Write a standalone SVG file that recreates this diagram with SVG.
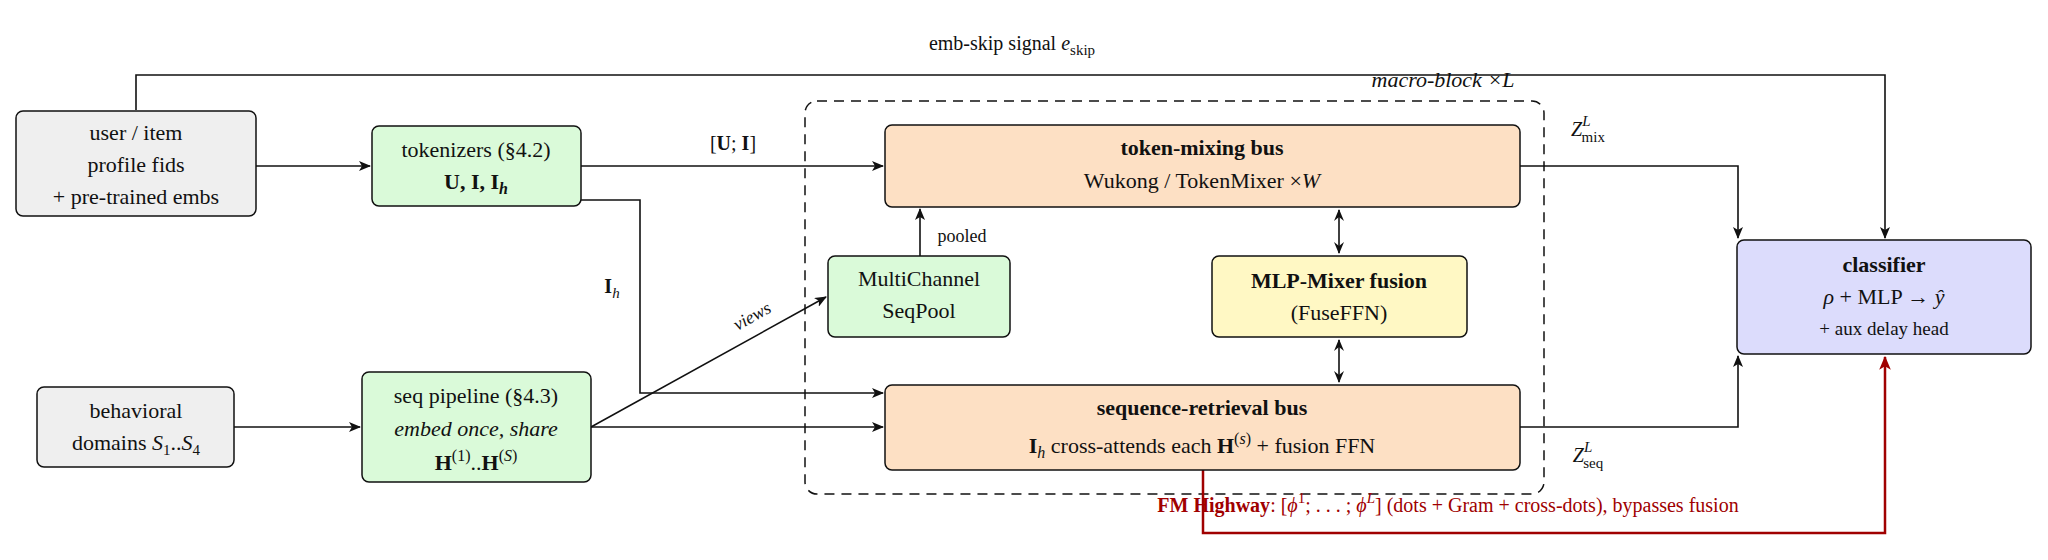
<svg xmlns="http://www.w3.org/2000/svg" width="2048" height="560" viewBox="0 0 2048 560">
<style>
text{font-family:"Liberation Serif","DejaVu Serif",serif;font-size:22px;fill:#111;text-anchor:middle}
.b{font-weight:bold}.i{font-style:italic}.sm{font-size:15px}
.n{stroke:#111;stroke-width:1.5}
.gray{fill:#efefef}.green{fill:#dafad9}.orange{fill:#fde0c4}.yellow{fill:#fff8c4}.blue{fill:#dcdcfc}
.c{fill:none;stroke:#111;stroke-width:1.6}
.red{fill:none;stroke:#a00000;stroke-width:2.5}
</style>
<defs>
<marker id="a" viewBox="0 0 12 10" refX="11" refY="5" markerWidth="12" markerHeight="10" markerUnits="userSpaceOnUse" orient="auto"><path d="M0,0 L12,5 L0,10 L3,5 Z" fill="#111"/></marker>
<marker id="ar" viewBox="0 0 12 10" refX="11" refY="5" markerWidth="14" markerHeight="12" markerUnits="userSpaceOnUse" orient="auto"><path d="M0,0 L12,5 L0,10 L3,5 Z" fill="#a00000"/></marker>
<marker id="d" viewBox="0 0 12 10" refX="11" refY="5" markerWidth="14" markerHeight="10" markerUnits="userSpaceOnUse" orient="auto-start-reverse"><path d="M0,0 L12,5 L0,10 L4,5 Z" fill="#111"/></marker>
</defs>
<text x="1012" y="50" style="font-size:20px">emb-skip signal <tspan class="i">e</tspan><tspan style="font-size:15px" dy="5">skip</tspan></text>
<rect x="805" y="101" width="739" height="393" rx="12" fill="none" stroke="#111" stroke-width="1.5" stroke-dasharray="10,7"/>
<text x="1443" y="87" class="i">macro-block ×<tspan>L</tspan></text>
<g id="connectors">
<path class="c" d="M136,110 V75 H1885 V238" marker-end="url(#a)"/>
<path class="c" d="M256,166 H370" marker-end="url(#a)"/>
<path class="c" d="M581,166 H883" marker-end="url(#a)"/>
<path class="c" d="M581,200 H640 V393 H883" marker-end="url(#a)"/>
<path class="c" d="M234,427 H360" marker-end="url(#a)"/>
<path class="c" d="M591,427 H883" marker-end="url(#a)"/>
<path class="c" d="M591,427 L826,297" marker-end="url(#a)"/>
<path class="c" d="M920,256 V209" marker-end="url(#a)"/>
<path class="c" d="M1339,210 V253" marker-start="url(#d)" marker-end="url(#d)"/>
<path class="c" d="M1339,340 V382" marker-start="url(#d)" marker-end="url(#d)"/>
<path class="c" d="M1520,166 H1738 V238" marker-end="url(#a)"/>
<path class="c" d="M1520,427 H1738 V356" marker-end="url(#a)"/>
<path class="red" d="M1203,470 V533 H1885 V357" marker-end="url(#ar)"/>
<text x="733" y="150" style="font-size:20px">[<tspan class="b">U</tspan>; <tspan class="b">I</tspan>]</text>
<text x="612" y="293" style="font-size:20px"><tspan class="b">I</tspan><tspan class="i" style="font-size:15px" dy="5">h</tspan></text>
<text x="752" y="322" class="i" style="font-size:18px" transform="rotate(-29 752 316)">views</text>
<text x="962" y="242" style="font-size:18px">pooled</text>
<text x="1588" y="136" class="i" style="font-size:20px">Z<tspan style="font-size:15px" dy="-10">L</tspan><tspan class="sm" style="font-style:normal" dx="-9" dy="16">mix</tspan></text>
<text x="1588" y="462" class="i" style="font-size:20px">Z<tspan style="font-size:15px" dy="-10">L</tspan><tspan class="sm" style="font-style:normal" dx="-9" dy="16">seq</tspan></text>
<text x="1448" y="512" style="font-size:20px;fill:#a00000"><tspan class="b" style="fill:#a00000">FM Highway</tspan>: [<tspan class="i" style="fill:#a00000">ϕ</tspan><tspan style="font-size:15px;fill:#a00000" dy="-9">1</tspan><tspan dy="9" style="fill:#a00000">; . . . ; </tspan><tspan class="i" style="fill:#a00000">ϕ</tspan><tspan class="i" style="font-size:15px;fill:#a00000" dy="-9">L</tspan><tspan dy="9" style="fill:#a00000">] (dots + Gram + cross-dots), bypasses fusion</tspan></text>
</g>
<g id="user"><rect class="n gray" x="16" y="111" width="240" height="105" rx="7"/>
<text x="136" y="140">user / item</text><text x="136" y="172">profile fids</text><text x="136" y="204">+ pre-trained embs</text></g>
<g id="tokenizers"><rect class="n green" x="372" y="126" width="209" height="80" rx="7"/>
<text x="476" y="157">tokenizers (§4.2)</text><text x="476" y="189" class="b">U, I, I<tspan class="i" style="font-size:16px" dy="5">h</tspan></text></g>
<g id="behavioral"><rect class="n gray" x="37" y="387" width="197" height="80" rx="7"/>
<text x="136" y="418">behavioral</text><text x="136" y="450">domains <tspan class="i">S</tspan><tspan style="font-size:15px" dy="5">1</tspan><tspan dy="-5">..</tspan><tspan class="i">S</tspan><tspan style="font-size:15px" dy="5">4</tspan></text></g>
<g id="seqpipe"><rect class="n green" x="362" y="372" width="229" height="110" rx="7"/>
<text x="476" y="403">seq pipeline (§4.3)</text><text x="476" y="436" class="i">embed once, share</text>
<text x="476" y="470"><tspan class="b">H</tspan><tspan style="font-size:16px" dy="-9">(1)</tspan><tspan dy="9">..</tspan><tspan class="b">H</tspan><tspan style="font-size:16px" dy="-9">(<tspan class="i">S</tspan>)</tspan></text></g>
<g id="seqpool"><rect class="n green" x="828" y="256" width="182" height="81" rx="7"/>
<text x="919" y="286">MultiChannel</text><text x="919" y="318">SeqPool</text></g>
<g id="tokenbus"><rect class="n orange" x="885" y="125" width="635" height="82" rx="7"/>
<text x="1202" y="155" class="b">token-mixing bus</text><text x="1202" y="188">Wukong / TokenMixer ×<tspan class="i">W</tspan></text></g>
<g id="mlpmixer"><rect class="n yellow" x="1212" y="256" width="255" height="81" rx="7"/>
<text x="1339" y="288" class="b">MLP-Mixer fusion</text><text x="1339" y="320">(FuseFFN)</text></g>
<g id="seqbus"><rect class="n orange" x="885" y="385" width="635" height="85" rx="7"/>
<text x="1202" y="415" class="b">sequence-retrieval bus</text>
<text x="1202" y="453"><tspan class="b">I</tspan><tspan class="i" style="font-size:16px" dy="5">h</tspan><tspan dy="-5"> cross-attends each </tspan><tspan class="b">H</tspan><tspan style="font-size:16px" dy="-9">(<tspan class="i">s</tspan>)</tspan><tspan dy="9"> + fusion FFN</tspan></text></g>
<g id="classifier"><rect class="n blue" x="1737" y="240" width="294" height="114" rx="7"/>
<text x="1884" y="272" class="b">classifier</text>
<text x="1884" y="304"><tspan class="i">ρ</tspan> + MLP → <tspan class="i">ŷ</tspan></text>
<text x="1884" y="335" style="font-size:19px">+ aux delay head</text></g>
</svg>
